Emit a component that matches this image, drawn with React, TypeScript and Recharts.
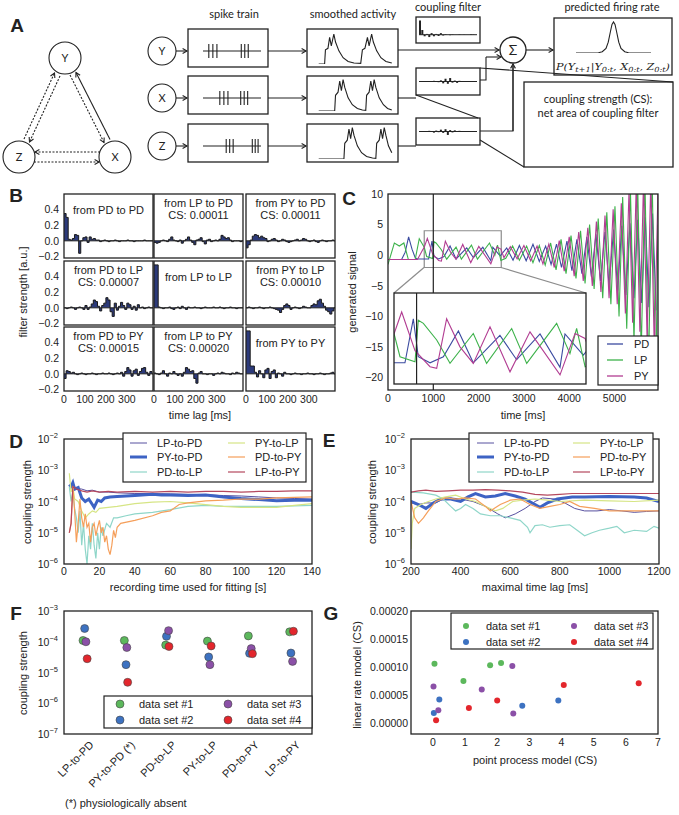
import React from "react";
import {
  AreaChart,
  Area,
  BarChart,
  Bar,
  LineChart,
  Line,
  ScatterChart,
  Scatter,
  XAxis,
  YAxis,
  ReferenceLine,
  ReferenceArea,
} from "recharts";

const SANS = "'Liberation Sans', Arial, sans-serif";
const DIAG = "Lato, 'Open Sans', sans-serif";
const INK = "#222";

// ---------- panel B: coupling filters (10 ms bins) ----------
const pdToPd = [0.35,0.30,0.02,0.01,0.03,0.08,0.07,-0.16,0.00,0.04,
  0.05,-0.02,0.05,0.02,0.03,0.01,0.01,-0.01,0.00,0.01,
  0.00,-0.01,0.00,0.00,0.01,0.00,-0.01,0.00,0.00,0.00,
  0.01,0.00,0.00,-0.01,0.00,0.00,0.00,0.00,0.01,0.00,
  0.00,0.00,0.00];
const lpToPd = [-0.02,-0.03,-0.02,0.00,0.01,0.00,-0.01,0.02,0.05,0.01,
  0.00,-0.01,0.01,-0.03,0.00,0.02,0.05,0.01,-0.02,-0.05,
  0.01,0.02,0.04,-0.01,-0.04,0.01,0.02,-0.01,0.00,0.01,
  0.00,0.02,0.07,0.05,0.03,0.04,0.01,-0.01,0.00,0.00,
  0.00,-0.01,0.00];
const pyToPd = [-0.09,-0.05,0.01,0.06,0.08,0.07,0.04,0.06,0.04,0.03,
  -0.01,0.00,0.02,0.03,0.01,-0.01,0.00,0.02,0.01,-0.01,
  -0.02,-0.01,0.00,0.01,0.02,0.00,0.01,0.03,0.02,0.00,
  -0.01,0.00,0.01,-0.01,-0.02,0.00,0.01,0.00,-0.01,0.00,
  0.00,0.01,0.00];
const pdToLp = [0.00,-0.01,0.00,0.01,0.00,-0.02,0.00,0.01,0.00,-0.02,
  0.03,-0.02,0.01,0.05,0.10,0.08,0.02,-0.04,0.03,0.06,
  0.13,0.10,-0.05,-0.11,0.06,-0.03,0.02,0.07,0.03,-0.02,
  0.06,0.04,-0.02,0.02,-0.03,0.04,0.00,0.01,-0.01,0.00,
  0.01,0.00,0.00];
const lpToLp = [0.55,0.55,0.01,0.00,-0.01,0.00,0.00,0.01,-0.01,-0.02,
  0.00,0.01,-0.01,0.02,0.00,-0.02,0.01,0.00,0.00,0.01,
  0.00,0.00,-0.01,0.00,0.01,0.00,0.00,0.00,0.01,0.00,
  0.00,0.01,0.00,-0.01,0.00,0.00,0.01,0.00,0.00,-0.01,
  0.00,0.00,0.00];
const pyToLp = [0.00,0.01,0.00,-0.01,0.00,0.00,0.01,0.00,-0.01,0.00,
  0.00,0.01,0.00,-0.01,-0.02,-0.03,-0.06,-0.02,0.03,0.05,
  0.03,-0.02,0.00,0.01,0.00,-0.01,0.00,0.02,0.01,0.00,
  0.00,0.03,0.05,0.04,0.09,0.11,0.06,0.02,-0.03,-0.05,
  -0.08,-0.04,0.00];
const pdToPy = [-0.06,0.04,0.03,0.01,0.02,0.00,-0.01,0.00,0.01,0.00,
  -0.01,0.00,0.00,0.01,0.00,-0.01,0.00,0.00,0.01,0.00,
  0.00,0.01,0.00,-0.01,0.00,0.01,0.00,0.02,-0.03,0.03,
  0.08,0.05,-0.03,0.04,0.06,-0.02,0.03,0.07,0.08,0.02,
  -0.02,0.03,0.00];
const lpToPy = [0.01,0.00,-0.01,0.01,0.04,0.00,-0.03,0.01,0.00,0.03,
  0.00,-0.02,0.00,-0.03,0.02,0.08,0.06,0.03,0.04,-0.06,
  -0.12,0.01,0.03,0.00,0.00,-0.01,0.00,0.00,-0.02,0.00,
  0.01,0.00,0.02,0.01,0.00,0.00,-0.01,0.01,0.00,0.02,
  0.01,0.00,0.00];
const pyToPy = [0.55,0.55,0.10,0.10,0.02,-0.04,0.04,0.00,-0.05,0.05,
  0.07,-0.06,0.03,0.05,-0.05,0.01,0.00,-0.03,0.02,0.00,
  0.00,-0.01,0.00,0.01,0.00,0.00,-0.01,0.00,0.00,0.01,
  0.00,0.00,-0.01,0.00,0.00,0.01,0.00,-0.01,0.00,0.00,
  0.01,0.02,0.00];
const filterValues = [pdToPd, lpToPd, pyToPd, pdToLp, lpToLp, pyToLp, pdToPy, lpToPy, pyToPy];
const filterTitles = [
  ["from PD to PD"], ["from LP to PD", "CS: 0.00011"], ["from PY to PD", "CS: 0.00011"],
  ["from PD to LP", "CS: 0.00007"], ["from LP to LP"], ["from PY to LP", "CS: 0.00010"],
  ["from PD to PY", "CS: 0.00015"], ["from LP to PY", "CS: 0.00020"], ["from PY to PY"],
];
const lagTicks = [0, 100, 200, 300];
const filterTicks = [-0.2, 0, 0.2, 0.4];

// ---------- panel C: generated signal, [time ms, value] at turning points ----------
const pdSignal = [[0,-0.7],[300,-0.7],[380,0.5],[455,3.0],[530,1.0],[600,-0.4],[650,-0.6],[897,-0.6],[971,2.3],[1015,-0.2],
  [1119,-0.6],[1237,-0.2],[1370,1.5],[1502,-0.6],[1620,0.3],[1738,1.2],[1886,-0.4],[2093,1.3],[2270,-0.9],[2314,1.3],
  [2476,-0.1],[2620,1.2],[2760,-0.8],[2900,1.6],[3050,-0.9],[3200,1.8],[3340,-1.0],[3480,1.5],[3600,-1.5],[3720,1.8],
  [3830,-2.0],[3950,2.3],[4060,-2.5],[4170,2.6],[4280,-3.0],[4390,3.0],[4490,-3.5],[4590,3.4],[4690,-4.2],[4790,3.8],
  [4880,-5.0],[4980,4.2],[5070,-5.8],[5160,4.8],[5250,-6.5],[5340,5.2],[5430,-7.0],[5510,5.8],[5600,-7.8],[5680,6.2],
  [5760,-8.5],[5840,6.8],[5920,-9.0]];
const lpSignal = [[0,-1.5],[140,2.0],[250,1.5],[350,2.0],[450,-0.7],[600,-0.7],[690,2.7],[800,1.33],[853,-0.2],[986,-0.53],
  [1015,2.2],[1060,2.0],[1178,0.9],[1296,-0.64],[1502,1.33],[1620,-0.64],[1842,1.66],[1975,-0.64],[2240,2.0],[2358,0.0],
  [2417,1.66],[2492,-0.86],[2600,-0.5],[2750,1.5],[2900,-0.8],[3060,1.5],[3200,-1.2],[3340,1.6],[3470,-1.6],[3590,2.0],
  [3710,-2.4],[3820,2.6],[3930,-3.0],[4040,3.2],[4150,-3.8],[4250,4.0],[4350,-4.6],[4450,5.0],[4550,-5.5],[4640,6.0],
  [4740,-7],[4830,7],[4920,-8],[5010,8],[5100,-10],[5180,9.5],[5270,-12],[5350,11],[5430,-14],[5510,12],
  [5590,-16],[5670,13],[5750,-19],[5830,13],[5910,-21],[5960,5]];
const pySignal = [[0,-0.7],[650,-0.7],[760,0.8],[800,1.3],[868,2.75],[986,0.2],[1119,-0.86],[1178,-0.97],[1266,2.3],[1384,0.45],
  [1502,-0.64],[1650,1.77],[1827,-1.2],[2004,1.44],[2270,-1.4],[2403,1.33],[2492,1.0],[2560,-0.4],[2700,1.4],[2850,-0.6],
  [3000,1.6],[3150,-0.9],[3290,1.5],[3420,-1.4],[3550,1.8],[3670,-2.0],[3780,2.4],[3890,-2.6],[4000,3.0],[4110,-3.4],
  [4210,3.8],[4310,-4.2],[4410,4.5],[4510,-5.0],[4600,5.5],[4700,-6],[4790,6.5],[4880,-7],[4970,7.5],[5060,-8],
  [5150,8.5],[5240,-9.5],[5320,10.5],[5400,-11],[5480,11.5],[5560,-12.5],[5640,12],[5720,-14],[5800,12],[5880,-16],[5960,11]];
const signalNames = ["PD", "LP", "PY"];
const signalColors = ["#3b4ba0", "#3db24b", "#b23d92"];
const timeTicks = [0, 1000, 2000, 3000, 4000, 5000];
const signalTicks = [-20, -15, -10, -5, 0, 5, 10];

// ---------- panels D / E: coupling strength ----------
const pairNames = ["LP-to-PD", "PY-to-PD", "PD-to-LP", "PY-to-LP", "PD-to-PY", "LP-to-PY"];
const pairColors = ["#57509f", "#3d63c4", "#8fd6c9", "#d6e585", "#f59f5b", "#b5485e"];
const pairWidths = [1, 3, 1.2, 1.2, 1.2, 1.2];

const dLpToPd = [[3,3e-4],[5,3.5e-4],[7,2.6e-4],[10,2.5e-4],[13,2.2e-4],[16,2.3e-4],[20,2.0e-4],[25,2.0e-4],[30,1.9e-4],[40,1.8e-4],
  [50,1.8e-4],[60,1.75e-4],[70,1.7e-4],[80,1.65e-4],[90,1.55e-4],[100,1.5e-4],[110,1.4e-4],[120,1.3e-4],[130,1.25e-4],[140,1.2e-4]];
const dPyToPd = [[3,3.5e-4],[4,3.0e-4],[5,4.0e-4],[6,2.5e-4],[8,2.8e-4],[10,1.3e-4],[12,1.0e-4],[14,1.2e-4],[16,8e-5],[17,6.5e-5],
  [19,1.1e-4],[21,1.0e-4],[23,1.3e-4],[26,1.4e-4],[30,1.45e-4],[40,1.55e-4],[50,1.7e-4],[55,1.6e-4],[60,1.6e-4],[70,1.55e-4],
  [80,1.6e-4],[90,1.4e-4],[100,1.25e-4],[110,1.15e-4],[120,1.05e-4],[130,1.1e-4],[140,1.1e-4]];
const dPdToLp = [[3,3e-4],[4,1e-4],[5,2e-4],[6,6e-5],[7,3e-5],[8,1e-5],[9,5e-5],[10,4e-6],[11,2e-5],[12,3e-6],
  [13,1e-6],[14,8e-6],[15,3e-6],[16,2e-5],[17,4e-6],[18,1.5e-6],[19,1e-5],[20,3e-6],[21,1.5e-5],[22,8e-6],
  [24,2e-5],[26,1.5e-5],[28,3e-5],[30,3e-5],[35,3.5e-5],[40,4e-5],[50,4.5e-5],[60,5.5e-5],[70,7e-5],[80,7.5e-5],
  [90,7e-5],[100,7e-5],[120,7e-5],[140,7.5e-5]];
const dPyToLp = [[3,8e-4],[4,2e-4],[5,3e-4],[6,1.2e-4],[8,1e-4],[10,5e-5],[12,3e-5],[14,4e-5],[16,5e-5],[18,4.5e-5],
  [20,6e-5],[25,6.5e-5],[30,7e-5],[40,8.5e-5],[50,9.5e-5],[60,1e-4],[70,9e-5],[80,8e-5],[90,7e-5],[100,6.5e-5],
  [110,6.5e-5],[120,6.5e-5],[130,7.5e-5],[140,8.5e-5]];
const dPdToPy = [[3,1e-5],[4,2e-5],[5,3e-4],[6,5e-5],[7,5e-6],[8,2e-5],[9,1.2e-4],[10,3e-5],[11,1.5e-5],[12,4e-5],
  [13,1.5e-5],[14,2e-5],[15,5e-6],[16,1.5e-5],[17,2e-5],[18,8e-6],[19,1.5e-5],[20,2.5e-5],[21,1e-5],[22,1.5e-5],
  [23,5e-6],[24,8e-6],[25,3e-6],[26,2e-6],[27,4e-6],[28,1.2e-5],[29,7e-6],[30,1.5e-5],[32,2e-5],[40,2.5e-5],
  [50,3.5e-5],[55,4.5e-5],[60,5e-5],[65,8e-5],[70,9e-5],[80,1.05e-4],[90,1.1e-4],[100,1.2e-4],[110,1.2e-4],[120,1.3e-4],
  [130,1.35e-4],[140,1.4e-4]];
const dLpToPy = [[3,1e-5],[4,2e-5],[5,3e-4],[7,2.5e-4],[10,2.2e-4],[13,2e-4],[16,2.2e-4],[20,2e-4],[25,2.1e-4],[30,2e-4],
  [40,2.1e-4],[50,2.0e-4],[60,2.1e-4],[70,2.0e-4],[80,2.1e-4],[90,2.1e-4],[100,2.0e-4],[110,2.1e-4],[120,2.1e-4],[130,2.2e-4],[140,2.2e-4]];

const eLpToPd = [[200,9e-5],[230,8e-5],[260,9e-5],[300,9e-5],[330,1.2e-4],[360,1.3e-4],[400,1.2e-4],[450,1e-4],[500,7e-5],[550,4e-5],
  [580,3e-5],[620,4e-5],[660,6e-5],[700,1e-4],[730,1.3e-4],[780,1.2e-4],[820,9e-5],[860,6e-5],[900,5e-5],[950,5e-5],
  [1000,5.5e-5],[1050,5e-5],[1100,4.5e-5],[1150,4.8e-5],[1200,5e-5]];
const ePyToPd = [[200,1e-4],[230,8e-5],[260,6e-5],[290,9e-5],[320,1.2e-4],[360,1.2e-4],[400,1e-4],[430,1.4e-4],[460,1.8e-4],[500,1.4e-4],
  [540,1.5e-4],[580,1.8e-4],[620,1.5e-4],[660,1.2e-4],[700,8e-5],[720,6.5e-5],[750,9e-5],[790,1.2e-4],[850,1.4e-4],[900,1.4e-4],
  [1000,1.45e-4],[1100,1.4e-4],[1150,1.3e-4],[1200,1e-4]];
const ePdToLp = [[200,2e-4],[250,1.9e-4],[300,1.6e-4],[330,1.2e-4],[360,7e-5],[380,5e-5],[400,6e-5],[420,8e-5],[450,6e-5],[480,4e-5],
  [520,3.5e-5],[560,3.5e-5],[600,3e-5],[640,2.5e-5],[670,1.5e-5],[680,1e-5],[700,1.7e-5],[730,1.8e-5],[760,1.5e-5],[800,1.7e-5],
  [840,1.8e-5],[870,1.2e-5],[900,8e-6],[930,1e-5],[960,1.2e-5],[1000,1.4e-5],[1030,1.6e-5],[1060,1e-5],[1100,1.2e-5],[1150,1.1e-5],
  [1180,1.6e-5],[1200,1.4e-5]];
const ePyToLp = [[200,3e-6],[205,2e-5],[215,6e-5],[240,8e-5],[270,1e-4],[300,1.2e-4],[340,1.4e-4],[380,1.6e-4],[420,1.2e-4],[460,1e-4],
  [500,7e-5],[540,5e-5],[570,6e-5],[610,1e-4],[650,1.1e-4],[700,1.2e-4],[750,1.1e-4],[800,1e-4],[900,1.1e-4],[1000,1.05e-4],
  [1100,1e-4],[1200,1.1e-4]];
const ePdToPy = [[200,1e-4],[215,3e-5],[230,2e-5],[250,3e-5],[270,5e-5],[300,1e-4],[340,1.3e-4],[380,1.2e-4],[420,1.3e-4],[460,1.2e-4],
  [500,7e-5],[520,5e-5],[560,8e-5],[600,1.1e-4],[640,1.2e-4],[680,8e-5],[720,6e-5],[760,7e-5],[800,8e-5],[840,1e-4],
  [880,7e-5],[940,6e-5],[1000,5e-5],[1100,5e-5],[1200,5e-5]];
const eLpToPy = [[200,2e-4],[230,2.2e-4],[260,2.3e-4],[300,2.1e-4],[350,2.2e-4],[400,2.3e-4],[450,2.3e-4],[500,2.4e-4],[550,2.3e-4],[600,2.2e-4],
  [650,2e-4],[700,1.7e-4],[750,1.6e-4],[800,1.7e-4],[850,1.8e-4],[900,1.8e-4],[1000,1.8e-4],[1100,1.8e-4],[1200,1.8e-4]];

const dSeries = [dLpToPd, dPyToPd, dPdToLp, dPyToLp, dPdToPy, dLpToPy];
const eSeries = [eLpToPd, ePyToPd, ePdToLp, ePyToLp, ePdToPy, eLpToPy];
const logTicksDE = [1e-6, 1e-5, 1e-4, 1e-3, 1e-2];

// ---------- panel F: coupling strength per data set ----------
const fCats = ["LP-to-PD", "PY-to-PD (*)", "PD-to-LP", "PY-to-LP", "PD-to-PY", "LP-to-PY"];
const fSet1 = [1.1e-4, 1.1e-4, 7.8e-5, 1.05e-4, 1.55e-4, 2.1e-4];
const fSet2 = [2.7e-4, 1.8e-5, 1.5e-4, 3.2e-5, 4.2e-5, 4.3e-5];
const fSet3 = [1.0e-4, 6.5e-5, 2.3e-4, 1.8e-5, 6.0e-5, 2.3e-5];
const fSet4 = [2.8e-5, 4.8e-6, 7.0e-5, 7.3e-5, 4.1e-5, 2.2e-4];
const fJitter1 = [-0.04, -0.04, -0.04, -0.03, -0.04, -0.04];
const fJitter2 = [0, 0, -0.02, 0, -0.01, -0.01];
const fJitter3 = [0.03, 0.02, 0.03, 0.03, 0.03, 0.03];
const fJitter4 = [0.06, 0.04, 0.04, 0.06, 0.06, 0.05];
const logTicksF = [1e-7, 1e-6, 1e-5, 1e-4, 1e-3];

// ---------- panel G: linear rate vs point process ----------
const gSet1 = [[0.05, 0.000106], [0.95, 0.000075], [1.78, 0.000103], [2.12, 0.000107]];
const gSet2 = [[0.03, 0.000018], [0.2, 0.000042], [2.78, 0.000031], [3.9, 0.00004]];
const gSet3 = [[0.02, 0.000065], [0.17, 0.000023], [1.52, 0.00006], [2.47, 0.000102], [2.5, 0.000017]];
const gSet4 = [[0.1, 0.000005], [1.12, 0.000027], [2.0, 0.00004], [4.07, 0.000068], [6.4, 0.000071]];
const setNames = ["data set #1", "data set #2", "data set #3", "data set #4"];
const setColors = ["#5cb85c", "#3d72c1", "#8b50a7", "#e3262c"];
const gxTicks = [0, 1, 2, 3, 4, 5, 6, 7];
const gyTicks = [0, 0.00005, 0.0001, 0.00015, 0.0002];

// ---------- panel A: schematic mini plots ----------
const spikeY = [10, 17, 24, 66, 72, 78];
const spikeX = [29, 36, 43, 65, 71, 77];
const spikeZ = [40, 46, 52, 85, 90, 95];
const smoothY = [[8,0],[15,0],[16,0.45],[19,0.5],[21,0.85],[23,0.58],[26,0.95],[28,0.7],[32,0.42],[37,0.2],[43,0.08],[50,0.03],
  [58,0.02],[60,0.45],[63,0.5],[66,0.85],[68,0.58],[71,0.95],[73,0.7],[77,0.42],[82,0.2],[88,0.08],[95,0.03]];
const smoothX = [[8,0],[27,0],[28,0.5],[31,0.6],[33,0.95],[35,0.65],[37,1.0],[39,0.75],[43,0.42],[48,0.2],[54,0.08],[60,0.03],
  [64,0.02],[65,0.5],[68,0.6],[70,0.95],[72,0.65],[74,1.0],[76,0.75],[80,0.42],[85,0.2],[90,0.08],[95,0.03]];
const smoothZ = [[8,0],[38,0],[39,0.5],[42,0.6],[44,0.95],[46,0.65],[48,1.0],[50,0.75],[54,0.42],[59,0.2],[65,0.08],[72,0.03],
  [76,0.02],[77,0.5],[80,0.6],[82,0.95],[84,0.65],[86,1.0],[88,0.75],[91,0.42],[95,0.2]];
const kernelY = [0.9,0.3,-0.1,0.05,-0.15,0.1,-0.1,0.05,-0.08,0.1,-0.05,0.03,0,-0.03,0.02,0,0,-0.02,0,0.01,0,0,0.03,-0.02,0];
const kernelX = [0,0,0.02,0,-0.02,0,0.03,0,-0.03,0.05,-0.08,0.12,-0.1,0.15,-0.05,0.04,-0.06,0.03,0,0.02,-0.02,0.01,0,0,0];
const kernelZ = [0,0.01,0,-0.02,0.03,0,-0.05,0.04,-0.03,0.08,-0.06,0.1,-0.15,0.06,-0.04,0.05,-0.02,0.03,0,0.01,-0.01,0,0.01,0,0];
const kernelCS = [0,0,0.02,0,-0.02,0.03,0,-0.04,0.06,-0.05,0.1,-0.12,0.08,0.2,-0.15,0.3,-0.2,0.12,-0.06,0.05,0.08,-0.03,0.04,0.06,0.02,-0.02,0.01,0];
const rateCurve = [[0,0],[20,0],[30,0.01],[35,0.04],[40,0.15],[43,0.35],[46,0.7],[48,0.92],[50,1],[52,0.92],[54,0.7],[57,0.35],
  [60,0.15],[65,0.04],[70,0.01],[80,0],[100,0]];

// ---------- helpers ----------
type Frame = { x: number; y: number; w: number; h: number };
const minus = (s: string) => s.replace(/-/g, "\u2212");
const toTV = (a: number[][]) => a.map(([t, v]) => ({ t, v }));
const toXY = (a: number[][]) => a.map(([x, y]) => ({ x, y }));

// wrapper so that the plotting area sits exactly on frame f; pad leaves room for overhanging labels
function place(f: Frame, yW: number, xH: number, pad = 10, padR = 10) {
  return {
    style: { position: "absolute" as const, left: f.x - yW - pad, top: f.y - pad },
    width: f.w + yW + pad + padR,
    height: f.h + xH + 2 * pad,
    margin: { top: pad, right: padR, left: pad, bottom: pad },
  };
}

function LogTick(props: any) {
  const { x, y, payload } = props;
  const e = Math.round(Math.log10(payload.value));
  return (
    <text x={x} y={y + 4} textAnchor="end" fill={INK} fontSize={10.5}>
      10<tspan dy={-5} fontSize={7.5}>{minus(String(e))}</tspan>
    </text>
  );
}

function CatTick(props: any) {
  const { x, y, payload } = props;
  const tx = x + 4;
  const ty = y - 1;
  return (
    <text x={tx} y={ty} textAnchor="end" fill={INK} fontSize={11} dominantBaseline="hanging"
      transform={`rotate(-45 ${tx} ${ty})`}>
      {fCats[payload.value]}
    </text>
  );
}

const tickFont = { fontSize: 10.5, fill: INK };

// ---------- panels ----------
const bCols = [64, 154, 246];
const bRows = [194, 261, 327];
const B_W = 89;
const B_H = 64;

function FilterPanel({ idx, vals }: { idx: number; vals: number[] }) {
  const row = Math.floor(idx / 3);
  const col = idx % 3;
  const showY = col === 0;
  const showX = row === 2;
  const yW = showY ? 30 : 0;
  const xH = showX ? 16 : 0;
  const data = vals.map((v, i) => ({ t: i * 10, v }));
  data.push({ t: 425, v: vals[vals.length - 1] });
  const p = place({ x: bCols[col], y: bRows[row], w: B_W, h: B_H }, yW, xH);
  return (
    <div style={p.style}>
      <AreaChart width={p.width} height={p.height} margin={p.margin} data={data}>
        <XAxis type="number" dataKey="t" domain={[0, 425]} ticks={lagTicks} hide={!showX} height={xH} interval={0}
          tickLine={false} axisLine={false} tickSize={3} tickMargin={2} tick={tickFont} allowDataOverflow />
        <YAxis type="number" domain={[-0.22, 0.6]} ticks={filterTicks} hide={!showY} width={yW} interval={0}
          tickLine={false} axisLine={false} tickSize={3} tickMargin={2} tick={tickFont}
          tickFormatter={(v: number) => minus(v.toFixed(1))} allowDataOverflow />
        <ReferenceLine y={0} stroke={INK} strokeWidth={1} />
        <Area type="stepAfter" dataKey="v" baseValue={0} stroke="#1a1a1a" strokeWidth={1}
          fill="#2c3a7a" fillOpacity={1} isAnimationActive={false} dot={false} activeDot={false} />
      </AreaChart>
    </div>
  );
}

const cFrame = { x: 388, y: 194, w: 270, h: 196 };
const insetFrame = { x: 394, y: 293, w: 192, h: 91 };
const signals = [pdSignal, lpSignal, pySignal];

function SignalPanel() {
  const p = place(cFrame, 30, 16);
  return (
    <div style={p.style}>
      <LineChart width={p.width} height={p.height} margin={p.margin}>
        <XAxis type="number" dataKey="t" domain={[0, 5960]} ticks={timeTicks} height={16} interval={0}
          tickLine={false} axisLine={false} tickSize={3} tickMargin={2} tick={tickFont} allowDataOverflow />
        <YAxis type="number" domain={[-22, 10]} ticks={signalTicks} width={30} interval={0}
          tickLine={false} axisLine={false} tickSize={3} tickMargin={2} tick={tickFont}
          tickFormatter={(v: number) => minus(String(v))} allowDataOverflow />
        {signals.map((s, i) => (
          <Line key={signalNames[i]} data={toTV(s)} dataKey="v" type="linear" stroke={signalColors[i]}
            strokeWidth={1.1} dot={false} activeDot={false} isAnimationActive={false} />
        ))}
        <ReferenceLine x={1000} stroke={INK} strokeWidth={1.2} />
        <ReferenceArea x1={800} x2={2500} y1={-2} y2={4} stroke="#8c8c8c" strokeWidth={1.2} fill="none" fillOpacity={0} />
      </LineChart>
    </div>
  );
}

function InsetPanel() {
  return (
    <div style={{ position: "absolute", left: insetFrame.x, top: insetFrame.y, background: "#fff" }}>
      <LineChart width={insetFrame.w} height={insetFrame.h} margin={{ top: 0, right: 0, left: 0, bottom: 0 }}>
        <XAxis type="number" dataKey="t" domain={[800, 2500]} hide allowDataOverflow />
        <YAxis type="number" domain={[-2, 4]} hide allowDataOverflow />
        {signals.map((s, i) => (
          <Line key={signalNames[i]} data={toTV(s)} dataKey="v" type="linear" stroke={signalColors[i]}
            strokeWidth={1.1} dot={false} activeDot={false} isAnimationActive={false} />
        ))}
        <ReferenceLine x={1000} stroke={INK} strokeWidth={1.2} />
      </LineChart>
    </div>
  );
}

const dFrame = { x: 64, y: 439, w: 248, h: 125 };
const eFrame = { x: 411, y: 439, w: 248, h: 125 };

function CouplingPanel({ frame, series, xDomain, xTicks }: { frame: Frame; series: number[][][]; xDomain: number[]; xTicks: number[] }) {
  const p = place(frame, 36, 16, 10, 18);
  return (
    <div style={p.style}>
      <LineChart width={p.width} height={p.height} margin={p.margin}>
        <XAxis type="number" dataKey="x" domain={xDomain} ticks={xTicks} height={16} interval={0}
          tickLine={false} axisLine={false} tickSize={2} tickMargin={2} tick={tickFont} allowDataOverflow />
        <YAxis type="number" dataKey="y" scale="log" domain={[1e-6, 1e-2]} ticks={logTicksDE} width={36} interval={0}
          tickLine={false} axisLine={false} tickSize={3} tickMargin={3} tick={<LogTick />} allowDataOverflow />
        {series.map((s, i) => (
          <Line key={pairNames[i]} data={toXY(s)} dataKey="y" type="linear" stroke={pairColors[i]}
            strokeWidth={pairWidths[i]} dot={false} activeDot={false} isAnimationActive={false} />
        ))}
      </LineChart>
    </div>
  );
}

const fFrame = { x: 64, y: 611, w: 248, h: 123 };
const gFrame = { x: 411, y: 611, w: 247, h: 123 };
const fSets = [fSet1, fSet2, fSet3, fSet4];
const fJitters = [fJitter1, fJitter2, fJitter3, fJitter4];
const gSets = [gSet1, gSet2, gSet3, gSet4];

function DatasetPanel() {
  const p = place(fFrame, 36, 70);
  return (
    <div style={p.style}>
      <ScatterChart width={p.width} height={p.height} margin={p.margin}>
        <XAxis type="number" dataKey="x" domain={[-0.5, 5.5]} ticks={[0, 1, 2, 3, 4, 5]} height={70} interval={0}
          tickLine={false} axisLine={false} tickSize={4} tickMargin={3} tick={<CatTick />} />
        <YAxis type="number" dataKey="y" scale="log" domain={[1e-7, 1e-3]} ticks={logTicksF} width={36} interval={0}
          tickLine={false} axisLine={false} tickSize={3} tickMargin={3} tick={<LogTick />} allowDataOverflow />
        {fSets.map((s, k) => (
          <Scatter key={setNames[k]} data={s.map((y, i) => ({ x: i + fJitters[k][i], y }))}
            isAnimationActive={false}
            shape={(q: any) => <circle cx={q.cx} cy={q.cy} r={4} fill={setColors[k]} stroke="#444" strokeWidth={0.6} />} />
        ))}
      </ScatterChart>
    </div>
  );
}

function ModelPanel() {
  const p = place(gFrame, 50, 16, 10, 14);
  return (
    <div style={p.style}>
      <ScatterChart width={p.width} height={p.height} margin={p.margin}>
        <XAxis type="number" dataKey="x" domain={[-0.68, 7]} ticks={gxTicks} height={16} interval={0}
          tickLine={false} axisLine={false} tickSize={3} tickMargin={2} tick={tickFont} allowDataOverflow />
        <YAxis type="number" dataKey="y" domain={[-0.0000196, 0.0002]} ticks={gyTicks} width={50} interval={0}
          tickLine={false} axisLine={false} tickSize={2} tickMargin={1} tick={tickFont}
          tickFormatter={(v: number) => v.toFixed(5)} allowDataOverflow />
        {gSets.map((s, k) => (
          <Scatter key={setNames[k]} data={toXY(s)} isAnimationActive={false}
            shape={(q: any) => <circle cx={q.cx} cy={q.cy} r={3} fill={setColors[k]} />} />
        ))}
      </ScatterChart>
    </div>
  );
}

// ---------- panel A mini charts ----------
const rowLine = [51, 98, 146];
const rowTop = [29, 76, 124];
const spikes = [spikeY, spikeX, spikeZ];
const smooths = [smoothY, smoothX, smoothZ];

function SpikeTrain({ top, times }: { top: number; times: number[] }) {
  return (
    <div style={{ position: "absolute", left: 203, top }}>
      <ScatterChart width={58} height={16} margin={{ top: 0, right: 0, left: 0, bottom: 0 }}>
        <XAxis type="number" dataKey="x" domain={[0, 100]} hide />
        <YAxis type="number" dataKey="y" domain={[-1, 1]} hide />
        <ReferenceLine y={0} stroke={INK} strokeWidth={1.2} />
        <Scatter data={times.map((x) => ({ x, y: 0 }))} isAnimationActive={false}
          shape={(q: any) => <line x1={q.cx} x2={q.cx} y1={q.cy - 7} y2={q.cy + 7} stroke={INK} strokeWidth={1.1} />} />
      </ScatterChart>
    </div>
  );
}

function MiniLine({ left, top, w, h, data, yDomain }: { left: number; top: number; w: number; h: number; data: number[][]; yDomain: number[] }) {
  return (
    <div style={{ position: "absolute", left, top }}>
      <LineChart width={w} height={h} margin={{ top: 0, right: 0, left: 0, bottom: 0 }} data={toTV(data)}>
        <XAxis type="number" dataKey="t" domain={[0, 100]} hide />
        <YAxis type="number" domain={yDomain} hide />
        <Line dataKey="v" type="linear" stroke={INK} strokeWidth={1.1} dot={false} activeDot={false} isAnimationActive={false} />
      </LineChart>
    </div>
  );
}

function MiniKernel({ left, top, w, h, vals, yDomain }: { left: number; top: number; w: number; h: number; vals: number[]; yDomain: number[] }) {
  return (
    <div style={{ position: "absolute", left, top }}>
      <BarChart width={w} height={h} margin={{ top: 0, right: 0, left: 0, bottom: 0 }} barCategoryGap={0}
        data={vals.map((v, i) => ({ i, v }))}>
        <XAxis dataKey="i" hide />
        <YAxis type="number" domain={yDomain} hide />
        <ReferenceLine y={0} stroke={INK} strokeWidth={1} />
        <Bar dataKey="v" fill={INK} isAnimationActive={false} />
      </BarChart>
    </div>
  );
}

function DiagramCharts() {
  return (
    <>
      {spikes.map((t, r) => <SpikeTrain key={r} top={rowLine[r] - 8} times={t} />)}
      {smooths.map((d, r) => (
        <MiniLine key={r} left={312} top={rowTop[r] + 3} w={84} h={32} data={d} yDomain={[0, 1.02]} />
      ))}
      <MiniKernel left={419} top={19} w={58} h={22} vals={kernelY} yDomain={[-0.4, 1]} />
      <MiniKernel left={419} top={70} w={58} h={23} vals={kernelX} yDomain={[-0.5, 0.5]} />
      <MiniKernel left={419} top={120} w={58} h={23} vals={kernelZ} yDomain={[-0.5, 0.5]} />
      <MiniKernel left={535} top={133} w={121} h={26} vals={kernelCS} yDomain={[-0.3, 0.35]} />
      <MiniLine left={576} top={21} w={75} h={32} data={rateCurve} yDomain={[0, 1.03]} />
    </>
  );
}

// ---------- overlay: frames, text, legends, schematic ----------
function Arrow({ x1, y1, x2, y2, dash = false, head = 5 }: { x1: number; y1: number; x2: number; y2: number; dash?: boolean; head?: number }) {
  const a = Math.atan2(y2 - y1, x2 - x1);
  const h1 = [x2 - head * Math.cos(a - 0.5), y2 - head * Math.sin(a - 0.5)];
  const h2 = [x2 - head * Math.cos(a + 0.5), y2 - head * Math.sin(a + 0.5)];
  return (
    <g stroke={INK} fill="none" strokeWidth={1.1}>
      <line x1={x1} y1={y1} x2={x2} y2={y2} strokeDasharray={dash ? "2 1.5" : undefined} />
      <polyline points={`${h1[0]},${h1[1]} ${x2},${y2} ${h2[0]},${h2[1]}`} />
    </g>
  );
}

const FrameRect = ({ f }: { f: Frame }) => (
  <rect x={f.x} y={f.y} width={f.w} height={f.h} fill="none" stroke={INK} strokeWidth={1.3} />
);

function Overlay() {
  const label = { fontSize: 11, fill: INK, fontFamily: SANS };
  const letter = { fontSize: 19, fontWeight: 700, fill: INK, fontFamily: SANS, textAnchor: "middle" as const, dominantBaseline: "central" as const };
  const diagText = { fontSize: 11, fill: INK, fontFamily: DIAG, textAnchor: "middle" as const };
  const legendRows = [443, 457, 472];
  return (
    <svg width={679} height={815} style={{ position: "absolute", left: 0, top: 0, pointerEvents: "none" }}>
      {/* panel letters */}
      <text x={17} y={25} {...letter}>A</text>
      <text x={16} y={195} {...letter}>B</text>
      <text x={349} y={198} {...letter}>C</text>
      <text x={16} y={441} {...letter}>D</text>
      <text x={329} y={440} {...letter}>E</text>
      <text x={16} y={613} {...letter}>F</text>
      <text x={331} y={613} {...letter}>G</text>

      {/* ---- A: network triangle ---- */}
      <g fill="none" stroke={INK} strokeWidth={1.1}>
        <circle cx={65} cy={58} r={16} />
        <circle cx={19} cy={157} r={16} />
        <circle cx={115} cy={157} r={16} />
      </g>
      <text x={65} y={62} {...diagText}>Y</text>
      <text x={19} y={161} {...diagText}>Z</text>
      <text x={115} y={161} {...diagText}>X</text>
      <Arrow x1={24} y1={139} x2={54.5} y2={73} dash />
      <Arrow x1={60} y1={76} x2={29.5} y2={142} dash />
      <Arrow x1={70} y1={75} x2={104} y2={142.5} dash />
      <Arrow x1={110} y1={139.5} x2={76} y2={72.5} />
      <Arrow x1={100} y1={152} x2={35} y2={152} dash />
      <Arrow x1={34} y1={162} x2={99} y2={162} dash />

      {/* ---- A: pipeline ---- */}
      <text x={234} y={18} {...diagText}>spike train</text>
      <text x={353} y={18} {...diagText}>smoothed activity</text>
      <text x={448} y={11} {...diagText}>coupling filter</text>
      <text x={612} y={11} {...diagText}>predicted firing rate</text>
      {["Y", "X", "Z"].map((n, r) => (
        <g key={n}>
          <circle cx={162} cy={rowLine[r]} r={14} fill="none" stroke={INK} strokeWidth={1.1} />
          <text x={162} y={rowLine[r] + 4} {...diagText}>{n}</text>
          <rect x={188} y={rowTop[r]} width={80} height={38} fill="none" stroke={INK} strokeWidth={1.3} />
          <rect x={307} y={rowTop[r]} width={91} height={38} fill="none" stroke={INK} strokeWidth={1.3} />
          <Arrow x1={176} y1={rowLine[r]} x2={187} y2={rowLine[r]} />
          <Arrow x1={268} y1={rowLine[r]} x2={306} y2={rowLine[r]} />
        </g>
      ))}
      <g fill="none" stroke={INK} strokeWidth={1.3}>
        <rect x={416} y={17} width={64} height={26} />
        <rect x={416} y={68} width={64} height={27} />
        <rect x={416} y={118} width={64} height={27} />
        <rect x={554} y={18} width={118} height={57} />
        <rect x={524} y={82} width={149} height={85} fill="#fff" />
        <circle cx={513} cy={50} r={13} />
      </g>
      <g fill="none" stroke={INK} strokeWidth={1.1}>
        <line x1={398} y1={98} x2={416} y2={98} />
        <line x1={398} y1={146} x2={416} y2={146} />
        <polyline points="480,80 486,80 486,57" />
        <polyline points="480,131 513,131 513,66" />
        <line x1={480} y1={68} x2={673} y2={82} />
        <line x1={416} y1={95} x2={478} y2={118} />
        <line x1={480} y1={140} x2={524} y2={167} />
      </g>
      <Arrow x1={398} y1={50} x2={499} y2={50} />
      <Arrow x1={486} y1={57} x2={501} y2={57} />
      <Arrow x1={513} y1={131} x2={513} y2={64} />
      <Arrow x1={526} y1={50} x2={553} y2={50} />
      <text x={513} y={55} {...diagText} fontSize={14}>Σ</text>
      <text x={598} y={103} {...diagText}>coupling strength (CS):</text>
      <text x={598} y={117} {...diagText}>net area of coupling filter</text>
      <text x={613} y={70} textAnchor="middle" fontFamily="'DejaVu Serif', serif" fontStyle="italic" fontSize={9.5}
        fill={INK} textLength={114} lengthAdjust="spacingAndGlyphs">
        P(Y<tspan fontSize={7} dy={2}>t+1</tspan><tspan dy={-2}>|Y</tspan><tspan fontSize={7} dy={2}>0:t</tspan>
        <tspan dy={-2}>, X</tspan><tspan fontSize={7} dy={2}>0:t</tspan><tspan dy={-2}>, Z</tspan>
        <tspan fontSize={7} dy={2}>0:t</tspan><tspan dy={-2}>)</tspan>
      </text>

      {/* ---- B ---- */}
      {filterTitles.map((t, i) => {
        const row = Math.floor(i / 3);
        const col = i % 3;
        const cx = bCols[col] + B_W / 2;
        const top = bRows[row];
        return (
          <g key={i}>
            <rect x={bCols[col]} y={top} width={B_W} height={B_H} fill="none" stroke={INK} strokeWidth={1.3} />
            {t.length === 1 ? (
              <text x={cx} y={top + 20} textAnchor="middle" {...label}>{t[0]}</text>
            ) : (
              <>
                <text x={cx} y={top + 13} textAnchor="middle" {...label}>{t[0]}</text>
                <text x={cx} y={top + 25} textAnchor="middle" {...label}>{t[1]}</text>
              </>
            )}
          </g>
        );
      })}
      <text x={0} y={0} transform="translate(27 292) rotate(-90)" textAnchor="middle" {...label}>filter strength [a.u.]</text>
      <text x={200} y={419} textAnchor="middle" {...label}>time lag [ms]</text>

      {/* ---- C ---- */}
      <FrameRect f={cFrame} />
      <line x1={424} y1={267.5} x2={394} y2={293} stroke="#8c8c8c" strokeWidth={1.2} />
      <line x1={501} y1={267.5} x2={586} y2={293} stroke="#8c8c8c" strokeWidth={1.2} />
      <rect x={insetFrame.x} y={insetFrame.y} width={insetFrame.w} height={insetFrame.h} fill="none" stroke={INK} strokeWidth={1.3} />
      <rect x={598} y={336} width={60} height={49} fill="#fff" stroke={INK} strokeWidth={1.2} />
      {signalNames.map((n, i) => (
        <g key={n}>
          <line x1={607} x2={623} y1={344 + i * 16} y2={344 + i * 16} stroke={signalColors[i]} strokeWidth={1.3} />
          <text x={634} y={348 + i * 16} {...label}>{n}</text>
        </g>
      ))}
      <text x={0} y={0} transform="translate(356 292) rotate(-90)" textAnchor="middle" {...label}>generated signal</text>
      <text x={523} y={419} textAnchor="middle" {...label}>time [ms]</text>

      {/* ---- D / E ---- */}
      <FrameRect f={dFrame} />
      <FrameRect f={eFrame} />
      {[{ box: [123, 183], c1: 130, c2: 228 }, { box: [469, 184], c1: 477, c2: 573 }].map((lg, k) => (
        <g key={k}>
          <rect x={lg.box[0]} y={433} width={lg.box[1]} height={49} fill="#fff" stroke={INK} strokeWidth={1.2} />
          {pairNames.map((n, i) => {
            const cx = i < 3 ? lg.c1 : lg.c2;
            const y = legendRows[i % 3];
            return (
              <g key={n}>
                <line x1={cx} x2={cx + 17} y1={y} y2={y} stroke={pairColors[i]} strokeWidth={pairWidths[i]} />
                <text x={cx + 27} y={y + 4} {...label}>{n}</text>
              </g>
            );
          })}
        </g>
      ))}
      <text x={0} y={0} transform="translate(31 502) rotate(-90)" textAnchor="middle" {...label}>coupling strength</text>
      <text x={188} y={591} textAnchor="middle" {...label}>recording time used for fitting [s]</text>
      <text x={0} y={0} transform="translate(376 502) rotate(-90)" textAnchor="middle" {...label}>coupling strength</text>
      <text x={535} y={591} textAnchor="middle" {...label}>maximal time lag [ms]</text>

      {/* ---- F ---- */}
      <FrameRect f={fFrame} />
      <rect x={104} y={696} width={208} height={32} fill="#fff" stroke={INK} strokeWidth={1.2} />
      {setNames.map((n, i) => {
        const cx = i % 2 === 0 ? 120 : 228;
        const y = i < 2 ? 704 : 720;
        const order = [0, 2, 1, 3][i];
        return (
          <g key={n}>
            <circle cx={cx} cy={y} r={4} fill={setColors[order]} stroke="#444" strokeWidth={0.6} />
            <text x={cx + 19} y={y + 4} {...label}>{setNames[order]}</text>
          </g>
        );
      })}
      <text x={0} y={0} transform="translate(27 673) rotate(-90)" textAnchor="middle" {...label}>coupling strength</text>
      <text x={65} y={807} {...label}>(*) physiologically absent</text>

      {/* ---- G ---- */}
      <FrameRect f={gFrame} />
      <rect x={451} y={613} width={202} height={36} fill="#fff" stroke={INK} strokeWidth={1.2} />
      {setNames.map((n, i) => {
        const cx = i % 2 === 0 ? 466 : 574;
        const y = i < 2 ? 626 : 642;
        const order = [0, 2, 1, 3][i];
        return (
          <g key={n}>
            <circle cx={cx} cy={y} r={3} fill={setColors[order]} />
            <text x={cx + 20} y={y + 4} {...label}>{setNames[order]}</text>
          </g>
        );
      })}
      <text x={0} y={0} transform="translate(361 675) rotate(-90)" textAnchor="middle" {...label}>linear rate model (CS)</text>
      <text x={535} y={764} textAnchor="middle" {...label}>point process model (CS)</text>
    </svg>
  );
}

export default function App() {
  return (
    <div style={{ position: "absolute", left: 0, top: 0, width: 679, height: 815, background: "#fff", fontFamily: SANS, overflow: "hidden" }}>
      {filterValues.map((vals, i) => <FilterPanel key={i} idx={i} vals={vals} />)}
      <SignalPanel />
      <InsetPanel />
      <CouplingPanel frame={dFrame} series={dSeries} xDomain={[0, 140]} xTicks={[0, 20, 40, 60, 80, 100, 120, 140]} />
      <CouplingPanel frame={eFrame} series={eSeries} xDomain={[200, 1200]} xTicks={[200, 400, 600, 800, 1000, 1200]} />
      <DatasetPanel />
      <ModelPanel />
      <DiagramCharts />
      <Overlay />
    </div>
  );
}
